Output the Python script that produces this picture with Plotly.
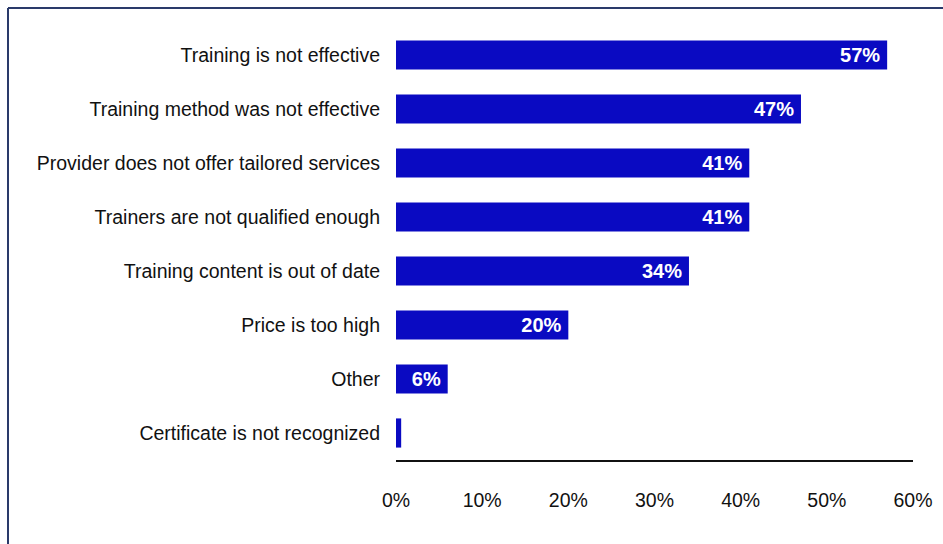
import plotly.graph_objects as go

categories = [
    "Training is not effective",
    "Training method was not effective",
    "Provider does not offer tailored services",
    "Trainers are not qualified enough",
    "Training content is out of date",
    "Price is too high",
    "Other",
    "Certificate is not recognized",
]
values = [57, 47, 41, 41, 34, 20, 6, 0.6]
tick_vals = [0, 10, 20, 30, 40, 50, 60]
tick_text = ["0%", "10%", "20%", "30%", "40%", "50%", "60%"]

labels = [f"{v:.0f}%\u2009" if v >= 1 else "" for v in values]

W, H = 943, 544
ml, mr, mt, mb = 396, 30, 28, 84
pw, ph = W - ml - mr, H - mt - mb

FONT = "Liberation Sans, Arial, sans-serif"

fig = go.Figure(go.Bar(
    x=values, y=categories, orientation="h",
    marker=dict(color="#0a0ac2", line=dict(width=0)),
    text=labels, textposition="inside", insidetextanchor="end",
    textfont=dict(family=FONT, size=20, color="white", weight="bold"),
    insidetextfont=dict(family=FONT, size=20, color="white", weight="bold"),
    cliponaxis=False,
    width=0.54,
))

def px(xp):
    return (xp - ml) / pw

def py(yp):
    return (H - mb - yp) / ph

fig.update_layout(
    width=W, height=H,
    margin=dict(l=ml, r=mr, t=mt, b=mb, pad=0, autoexpand=False),
    paper_bgcolor="white", plot_bgcolor="white",
    showlegend=False,
    uniformtext=dict(mode=False),
    font=dict(family=FONT, size=19.5, color="#111111"),
    xaxis=dict(
        range=[0, 60], tickvals=tick_vals, ticktext=tick_text,
        showgrid=False, zeroline=False, automargin=False,
        showline=True, linecolor="#111111", linewidth=2,
        ticks="outside", ticklen=22, tickcolor="rgba(0,0,0,0)",
        tickfont=dict(size=19.5),
    ),
    yaxis=dict(
        autorange="reversed", showgrid=False, zeroline=False, showline=False,
        ticks="", ticklabelstandoff=15, automargin=False,
        tickfont=dict(size=19.5),
    ),
    shapes=[
        dict(type="line", xref="paper", yref="paper", x0=px(8), x1=px(943), y0=py(8), y1=py(8),
             line=dict(color="#2a3a6a", width=2)),
        dict(type="line", xref="paper", yref="paper", x0=px(8), x1=px(8), y0=py(8), y1=py(544),
             line=dict(color="#2a3a6a", width=2)),
    ],
)

fig.write_html("out.html")
